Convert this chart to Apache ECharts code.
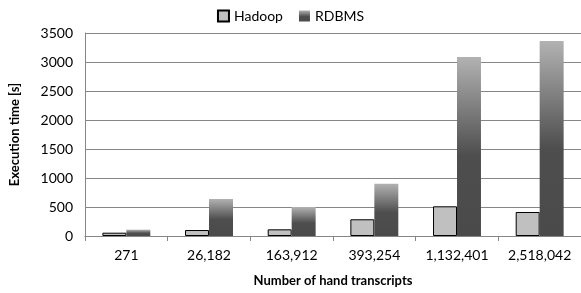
<!DOCTYPE html>
<html>
<head>
<meta charset="utf-8">
<script src="https://cdn.jsdelivr.net/npm/echarts@6/dist/echarts.min.js"></script>
<style>
  html, body { margin: 0; padding: 0; background: #fff; }
  #main { width: 581px; height: 293px; }
</style>
</head>
<body>
<div id="main"></div>
<script>
// data
var categories = ['271', '26,182', '163,912', '393,254', '1,132,401', '2,518,042']
var hadoop = [57, 103, 115, 288, 512, 414]
var rdbms = [109, 638, 500, 902, 3086, 3362]

var fontFam = 'Lato, "Open Sans", sans-serif'
var chart = echarts.init(document.getElementById('main'))

var rdbmsFill = new echarts.graphic.LinearGradient(0, 0, 0, 1, [
  { offset: 0, color: '#b2b2b2' },
  { offset: 0.55, color: '#4e4e4e' },
  { offset: 1, color: '#4a4a4a' },
])

var option = {
  animation: false,
  textStyle: { fontFamily: fontFam },
  legend: {
    top: 4,
    left: 'center',
    icon: 'rect',
    itemWidth: 11,
    itemHeight: 11,
    itemGap: 16,
    textStyle: { fontSize: 14, color: '#000', fontFamily: fontFam },
    data: ['Hadoop', 'RDBMS'],
  },
  grid: { left: 83, right: 0, top: 33, bottom: 57 },
  xAxis: {
    type: 'category',
    data: categories,
    name: 'Number of hand transcripts',
    nameLocation: 'middle',
    nameGap: 38,
    nameTextStyle: { fontWeight: 'bold', fontSize: 13, color: '#000' },
    axisLine: { lineStyle: { color: '#868686' } },
    axisTick: { show: true, length: 5, lineStyle: { color: '#868686' } },
    axisLabel: { fontSize: 14, color: '#000', margin: 12 },
  },
  yAxis: {
    type: 'value',
    min: 0,
    max: 3500,
    interval: 500,
    name: 'Execution time [s]',
    nameLocation: 'middle',
    nameGap: 64,
    nameTextStyle: { fontWeight: 'bold', fontSize: 13, color: '#000' },
    axisLine: { show: true, lineStyle: { color: '#868686' } },
    axisTick: { show: false },
    axisLabel: { fontSize: 14, color: '#000', margin: 12, formatter: function (v) { return String(v) } },
    splitLine: { lineStyle: { color: '#868686' } },
  },
  series: [
    {
      name: 'Hadoop',
      type: 'bar',
      data: hadoop,
      barGap: '0%',
      barCategoryGap: '42%',
      itemStyle: { color: '#c0c0c0', borderColor: '#000', borderWidth: 1 },
    },
    {
      name: 'RDBMS',
      type: 'bar',
      data: rdbms,
      itemStyle: { color: rdbmsFill },
    },
  ],
}
chart.setOption(option)
</script>
</body>
</html>
